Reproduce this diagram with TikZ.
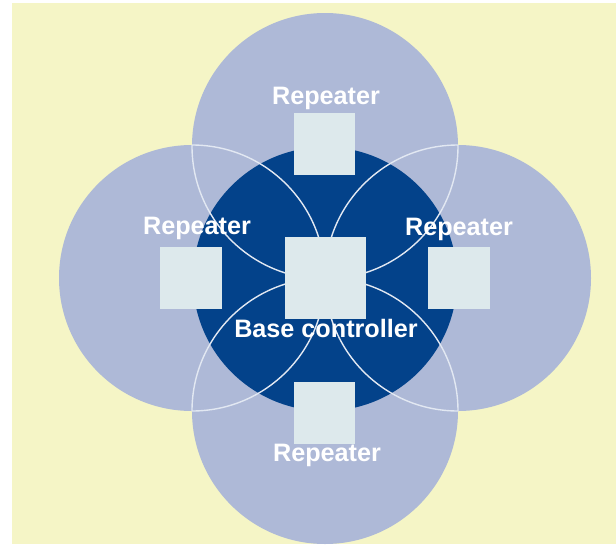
\documentclass[tikz,border=0pt]{standalone}
\usepackage{fontspec}
\setmainfont{Liberation Sans}
\definecolor{bgyellow}{HTML}{F5F5C6}
\definecolor{lightblue}{HTML}{AEB9D7}
\definecolor{darkblue}{HTML}{03428A}
\definecolor{boxfill}{HTML}{DDE9EC}
\definecolor{rimwhite}{HTML}{E2E8F2}
\tikzset{
  zone/.style={fill=lightblue},
  rim/.style={draw=rimwhite, line width=1.4pt},
  unitbox/.style={fill=boxfill, draw=none, inner sep=0pt, outer sep=0pt},
  lbl/.style={text=white, font=\bfseries\fontsize{25.2}{29}\selectfont, inner sep=0pt, anchor=base}
}
\begin{document}
\begin{tikzpicture}[x=1pt,y=-1pt]
\useasboundingbox (0,0) rectangle (616,544);
\fill[bgyellow] (12,3) rectangle (616,544);
% coverage circles
\coordinate (ct) at (325,146);
\coordinate (cl) at (192,278);
\coordinate (cr) at (458,278);
\coordinate (cb) at (325,411);
\coordinate (cc) at (325,279);
\foreach \c in {ct,cl,cr,cb} \fill[zone] (\c) circle[radius=133];
\fill[darkblue] (cc) circle[radius=132];
% outlines inside overlaps
\begin{scope}
  \clip (cl) circle[radius=133] (cr) circle[radius=133] (cb) circle[radius=133] (cc) circle[radius=132];
  \draw[rim] (ct) circle[radius=133];
\end{scope}
\begin{scope}
  \clip (ct) circle[radius=133] (cr) circle[radius=133] (cb) circle[radius=133] (cc) circle[radius=132];
  \draw[rim] (cl) circle[radius=133];
\end{scope}
\begin{scope}
  \clip (ct) circle[radius=133] (cl) circle[radius=133] (cb) circle[radius=133] (cc) circle[radius=132];
  \draw[rim] (cr) circle[radius=133];
\end{scope}
\begin{scope}
  \clip (ct) circle[radius=133] (cl) circle[radius=133] (cr) circle[radius=133] (cc) circle[radius=132];
  \draw[rim] (cb) circle[radius=133];
\end{scope}
% units
\node[unitbox, minimum width=61pt, minimum height=62pt] (rt) at (324.5,144) {};
\node[unitbox, minimum width=62pt, minimum height=62pt] (rl) at (191,278) {};
\node[unitbox, minimum width=62pt, minimum height=62pt] (rr) at (459,278) {};
\node[unitbox, minimum width=61pt, minimum height=62pt] (rb) at (324.5,413) {};
\node[unitbox, minimum width=81pt, minimum height=82pt] (base) at (325.5,278) {};
% labels
\node[lbl] (lt) at (326,104) {Repeater};
\node[lbl] (ll) at (197,234) {Repeater};
\node[lbl] (lr) at (459,235) {Repeater};
\node[lbl] (lb) at (327,461) {Repeater};
\node[lbl] (lc) at (326,337) {Base controller};
\end{tikzpicture}
\end{document}
